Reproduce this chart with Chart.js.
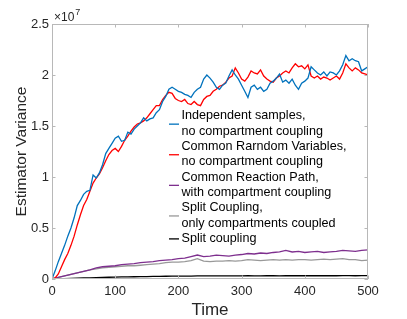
<!DOCTYPE html>
<html>
<head>
<meta charset="utf-8">
<script src="https://cdn.jsdelivr.net/npm/chart.js@4.4.1/dist/chart.umd.min.js"></script>
<style>
  html, body { margin: 0; padding: 0; background: #fff; }
  #wrap { width: 407px; height: 319px; }
</style>
</head>
<body>
<div id="wrap"><canvas id="myChart" width="407" height="319"></canvas></div>
<script>
// time grids
const tFine = Array.from({length: 101}, (_, i) => i * 5);
const tCoarse = Array.from({length: 51}, (_, i) => i * 10);

// values in units of 1e7
const independent = [0,0.08,0.17,0.25,0.33,0.42,0.50,0.60,0.72,0.77,0.83,0.86,0.87,1.02,0.99,1.04,1.12,1.23,1.28,1.33,
  1.38,1.40,1.35,1.36,1.44,1.42,1.47,1.50,1.53,1.58,1.55,1.57,1.58,1.63,1.66,1.74,1.79,1.86,1.88,1.86,
  1.84,1.83,1.81,1.80,1.78,1.83,1.86,1.88,1.96,2.00,1.97,1.93,1.88,1.86,1.90,1.92,1.99,2.05,2.00,1.96,
  1.90,1.84,1.78,1.88,1.90,1.86,1.88,1.84,1.86,1.92,1.94,1.97,2.01,1.93,1.95,1.92,1.96,1.90,1.86,1.92,
  1.94,1.97,2.08,2.05,2.02,2.00,2.03,1.99,2.03,2.02,2.00,2.04,2.10,2.19,2.14,2.16,2.14,2.13,2.04,2.06,2.08];
const commonRandom = [0,0.01,0.05,0.12,0.19,0.25,0.33,0.42,0.53,0.63,0.72,0.78,0.86,0.94,0.99,1.03,1.09,1.16,1.22,1.26,
  1.28,1.25,1.30,1.36,1.40,1.45,1.49,1.52,1.53,1.55,1.58,1.62,1.66,1.70,1.70,1.76,1.80,1.83,1.82,1.77,
  1.75,1.74,1.76,1.72,1.71,1.74,1.71,1.70,1.76,1.79,1.80,1.84,1.86,1.89,1.90,1.93,1.97,1.99,2.07,2.02,
  1.96,1.94,1.98,2.04,2.02,2.01,2.05,1.99,1.96,1.94,1.93,1.97,1.99,2.02,2.04,2.02,2.07,2.11,2.08,2.09,
  2.06,2.10,1.99,1.97,1.99,1.96,1.98,1.97,1.95,1.97,1.99,1.96,2.02,2.11,2.07,2.04,2.07,2.05,2.02,2.01,2.00];
const commonReaction = [0,0.015,0.03,0.045,0.06,0.075,0.09,0.11,0.12,0.125,0.13,0.14,0.145,0.15,0.16,0.165,0.17,0.18,0.185,0.19,
  0.20,0.205,0.22,0.235,0.22,0.225,0.235,0.23,0.225,0.235,0.24,0.25,0.245,0.255,0.25,0.26,0.265,0.28,0.265,0.27,
  0.26,0.265,0.27,0.26,0.265,0.27,0.28,0.275,0.27,0.28,0.285];
const splitCompartments = [0,0.015,0.03,0.045,0.06,0.075,0.09,0.10,0.11,0.115,0.12,0.125,0.13,0.13,0.135,0.14,0.145,0.15,0.16,0.165,
  0.165,0.17,0.18,0.20,0.175,0.17,0.175,0.175,0.18,0.175,0.18,0.19,0.185,0.18,0.185,0.19,0.185,0.19,0.185,0.19,
  0.19,0.185,0.19,0.195,0.19,0.195,0.20,0.19,0.19,0.18,0.186];
const splitFull = [0,0.002,0.004,0.006,0.008,0.010,0.012,0.014,0.016,0.017,0.019,0.020,0.021,0.022,0.023,0.024,0.025,0.026,0.027,0.028,
  0.028,0.029,0.029,0.030,0.030,0.030,0.031,0.030,0.031,0.031,0.031,0.032,0.031,0.031,0.032,0.032,0.031,0.032,0.032,0.032,
  0.032,0.033,0.032,0.032,0.033,0.032,0.033,0.033,0.032,0.033,0.033];

const legendLabels = [
  ['Independent samples,', 'no compartment coupling'],
  ['Common Rarndom Variables,', 'no compartment coupling'],
  ['Common Reaction Path,', 'with compartment coupling'],
  ['Split Coupling,', 'only compartments coupled'],
  ['Split coupling']
];
const colors = ['#0072BD', '#FF0000', '#7E2F8E', '#999999', '#000000'];
const xTicks = [0, 100, 200, 300, 400, 500];
const yTicks = [0, 0.5, 1, 1.5, 2, 2.5];

const FONT = '"Liberation Sans", Arial, sans-serif';
const axisGray = '#b8b8b8';

function pts(t, v) { return t.map((x, i) => ({x: x, y: v[i]})); }

const seriesData = [
  pts(tFine, independent),
  pts(tFine, commonRandom),
  pts(tCoarse, commonReaction),
  pts(tCoarse, splitCompartments),
  pts(tCoarse, splitFull)
];

const boxPlugin = {
  id: 'box',
  afterDraw(chart) {
    const {ctx, chartArea: a, scales: {x, y}} = chart;
    ctx.save();
    ctx.strokeStyle = axisGray;
    ctx.lineWidth = 1;
    ctx.strokeRect(a.left + 0.5, a.top + 0.5, a.right - a.left - 1, a.bottom - a.top - 1);
    ctx.beginPath();
    xTicks.forEach(v => {
      const px = Math.round(x.getPixelForValue(v)) + 0.5;
      ctx.moveTo(px, a.bottom); ctx.lineTo(px, a.bottom - 3.5);
      ctx.moveTo(px, a.top); ctx.lineTo(px, a.top + 3.5);
    });
    yTicks.forEach(v => {
      const py = Math.round(y.getPixelForValue(v)) + 0.5;
      ctx.moveTo(a.left, py); ctx.lineTo(a.left + 3.5, py);
      ctx.moveTo(a.right, py); ctx.lineTo(a.right - 3.5, py);
    });
    ctx.stroke();

    // exponent label
    ctx.fillStyle = '#262626';
    ctx.textBaseline = 'alphabetic';
    ctx.textAlign = 'left';
    ctx.font = '12px ' + FONT;
    ctx.fillText('\u00d710', a.left + 2, 21);
    const w = ctx.measureText('\u00d710').width;
    ctx.font = '9px ' + FONT;
    ctx.fillText('7', a.left + 2 + w + 1, 15);

    // legend
    ctx.font = '12.6px ' + FONT;
    ctx.textBaseline = 'middle';
    let yy = 116;
    const step = 15.3;
    legendLabels.forEach((lines, i) => {
      const mid = yy + (lines.length - 1) * step / 2;
      ctx.strokeStyle = colors[i];
      ctx.lineWidth = 1.3;
      ctx.beginPath();
      ctx.moveTo(169, mid + 0.5); ctx.lineTo(179, mid + 0.5);
      ctx.stroke();
      ctx.fillStyle = '#000';
      lines.forEach((s, k) => ctx.fillText(s, 181.5, yy + k * step));
      yy += lines.length * step;
    });
    ctx.restore();
  }
};

new Chart(document.getElementById('myChart'), {
  type: 'line',
  data: {
    datasets: seriesData.map((d, i) => ({
      label: legendLabels[i].join(' '),
      data: d,
      borderColor: colors[i],
      borderWidth: 1.3,
      pointRadius: 0,
      tension: 0,
      fill: false
    }))
  },
  options: {
    responsive: false,
    animation: false,
    layout: { padding: { left: 0, top: 24, right: 39, bottom: 0 } },
    plugins: { legend: { display: false }, tooltip: { enabled: false } },
    scales: {
      x: {
        type: 'linear',
        min: 0, max: 500,
        afterFit: s => { s.height = 40; },
        afterBuildTicks: s => { s.ticks = xTicks.map(v => ({value: v})); },
        border: { display: false },
        grid: { display: false, drawTicks: false },
        ticks: { color: '#262626', font: { family: FONT, size: 13 }, padding: 5, maxRotation: 0 },
        title: { display: true, text: 'Time', color: '#262626',
          font: { family: FONT, size: 17, lineHeight: 1 }, padding: { top: 0, bottom: 0 } }
      },
      y: {
        min: 0, max: 2.5,
        afterFit: s => { s.width = 52; },
        afterBuildTicks: s => { s.ticks = yTicks.map(v => ({value: v})); },
        border: { display: false },
        grid: { display: false, drawTicks: false },
        ticks: { color: '#262626', font: { family: FONT, size: 13 }, padding: 3,
          callback: v => String(v) },
        title: { display: true, text: 'Estimator Variance', color: '#262626',
          font: { family: FONT, size: 15.5, lineHeight: 1.2 }, padding: { top: 12, bottom: 0 } }
      }
    }
  },
  plugins: [boxPlugin]
});
</script>
</body>
</html>
